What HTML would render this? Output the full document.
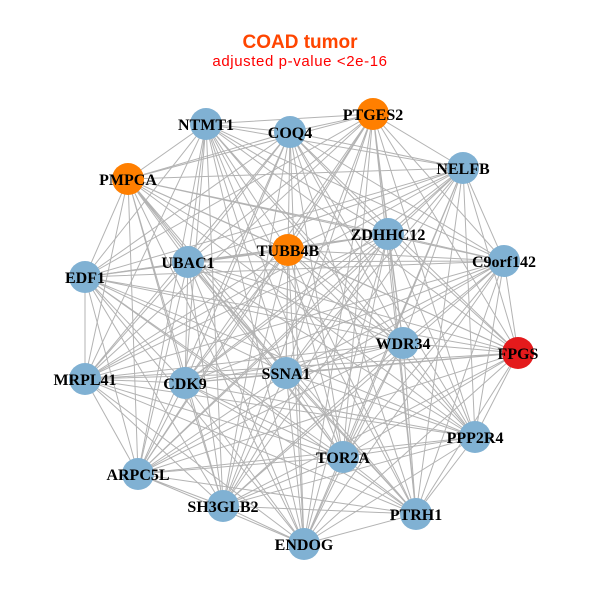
<!DOCTYPE html>
<html><head><meta charset="utf-8"><style>
html,body{margin:0;padding:0;background:#fff;}
svg{display:block;}
.l{font-family:"Liberation Serif",serif;font-weight:bold;font-size:16px;fill:#000;text-anchor:middle;}
</style></head><body>
<svg width="600" height="600" viewBox="0 0 600 600" xmlns="http://www.w3.org/2000/svg">
<rect width="600" height="600" fill="#fff"/>
<text x="300" y="48" text-anchor="middle" font-family="Liberation Sans, sans-serif" font-weight="bold" font-size="19" fill="#FF4500">COAD tumor</text>
<text x="300" y="66" text-anchor="middle" font-family="Liberation Sans, sans-serif" font-size="15" letter-spacing="0.6" fill="#FF0000">adjusted p-value &lt;2e-16</text>
<g fill="none" stroke="#b3b3b3" stroke-width="1">
<path d="M206 124L290 132M206 124L373 114M206 124L463 168M206 124L128 179M206 124L388 234M206 124L288 250M206 124L188 262M206 124L504 261M206 124L85 277M206 124L403 343M206 124L518 353M206 124L85 379M206 124L185 383M206 124L286 373M206 124L475 437M206 124L343 457M206 124L138 474M206 124L223 506M206 124L416 514M206 124L304 544"/>
<path d="M290 132L373 114M290 132L463 168M290 132L128 179M290 132L388 234M290 132L288 250M290 132L188 262M290 132L504 261M290 132L85 277M290 132L403 343M290 132L518 353M290 132L85 379M290 132L185 383M290 132L286 373M290 132L475 437M290 132L343 457M290 132L138 474M290 132L223 506M290 132L416 514M290 132L304 544"/>
<path d="M373 114L463 168M373 114L128 179M373 114L388 234M373 114L288 250M373 114L188 262M373 114L504 261M373 114L85 277M373 114L403 343M373 114L518 353M373 114L85 379M373 114L185 383M373 114L286 373M373 114L475 437M373 114L343 457M373 114L138 474M373 114L223 506M373 114L416 514M373 114L304 544"/>
<path d="M463 168L128 179M463 168L388 234M463 168L288 250M463 168L188 262M463 168L504 261M463 168L85 277M463 168L403 343M463 168L518 353M463 168L85 379M463 168L185 383M463 168L286 373M463 168L475 437M463 168L343 457M463 168L138 474M463 168L223 506M463 168L416 514M463 168L304 544"/>
<path d="M128 179L388 234M128 179L288 250M128 179L188 262M128 179L504 261M128 179L85 277M128 179L403 343M128 179L518 353M128 179L85 379M128 179L185 383M128 179L286 373M128 179L475 437M128 179L343 457M128 179L138 474M128 179L223 506M128 179L416 514M128 179L304 544"/>
<path d="M388 234L288 250M388 234L188 262M388 234L504 261M388 234L85 277M388 234L403 343M388 234L518 353M388 234L85 379M388 234L185 383M388 234L286 373M388 234L475 437M388 234L343 457M388 234L138 474M388 234L223 506M388 234L416 514M388 234L304 544"/>
<path d="M288 250L188 262M288 250L504 261M288 250L85 277M288 250L403 343M288 250L518 353M288 250L85 379M288 250L185 383M288 250L286 373M288 250L475 437M288 250L343 457M288 250L138 474M288 250L223 506M288 250L416 514M288 250L304 544"/>
<path d="M188 262L504 261M188 262L85 277M188 262L403 343M188 262L518 353M188 262L85 379M188 262L185 383M188 262L286 373M188 262L475 437M188 262L343 457M188 262L138 474M188 262L223 506M188 262L416 514M188 262L304 544"/>
<path d="M504 261L85 277M504 261L403 343M504 261L518 353M504 261L85 379M504 261L185 383M504 261L286 373M504 261L475 437M504 261L343 457M504 261L138 474M504 261L223 506M504 261L416 514M504 261L304 544"/>
<path d="M85 277L403 343M85 277L518 353M85 277L85 379M85 277L185 383M85 277L286 373M85 277L475 437M85 277L343 457M85 277L138 474M85 277L223 506M85 277L416 514M85 277L304 544"/>
<path d="M403 343L518 353M403 343L85 379M403 343L185 383M403 343L286 373M403 343L475 437M403 343L343 457M403 343L138 474M403 343L223 506M403 343L416 514M403 343L304 544"/>
<path d="M518 353L85 379M518 353L185 383M518 353L286 373M518 353L475 437M518 353L343 457M518 353L138 474M518 353L223 506M518 353L416 514M518 353L304 544"/>
<path d="M85 379L185 383M85 379L286 373M85 379L475 437M85 379L343 457M85 379L138 474M85 379L223 506M85 379L416 514M85 379L304 544"/>
<path d="M185 383L286 373M185 383L475 437M185 383L343 457M185 383L138 474M185 383L223 506M185 383L416 514M185 383L304 544"/>
<path d="M286 373L475 437M286 373L343 457M286 373L138 474M286 373L223 506M286 373L416 514M286 373L304 544"/>
<path d="M475 437L343 457M475 437L138 474M475 437L223 506M475 437L416 514M475 437L304 544"/>
<path d="M343 457L138 474M343 457L223 506M343 457L416 514M343 457L304 544"/>
<path d="M138 474L223 506M138 474L416 514M138 474L304 544"/>
<path d="M223 506L416 514M223 506L304 544"/>
<path d="M416 514L304 544"/>
</g>
<g>
<circle cx="206" cy="124" r="16" fill="#80B1D3"/>
<circle cx="290" cy="132" r="16" fill="#80B1D3"/>
<circle cx="373" cy="114" r="16" fill="#FF7F00"/>
<circle cx="463" cy="168" r="16" fill="#80B1D3"/>
<circle cx="128" cy="179" r="16" fill="#FF7F00"/>
<circle cx="388" cy="234" r="16" fill="#80B1D3"/>
<circle cx="288" cy="250" r="16" fill="#FF7F00"/>
<circle cx="188" cy="262" r="16" fill="#80B1D3"/>
<circle cx="504" cy="261" r="16" fill="#80B1D3"/>
<circle cx="85" cy="277" r="16" fill="#80B1D3"/>
<circle cx="403" cy="343" r="16" fill="#80B1D3"/>
<circle cx="518" cy="353" r="16" fill="#E41A1C"/>
<circle cx="85" cy="379" r="16" fill="#80B1D3"/>
<circle cx="185" cy="383" r="16" fill="#80B1D3"/>
<circle cx="286" cy="373" r="16" fill="#80B1D3"/>
<circle cx="475" cy="437" r="16" fill="#80B1D3"/>
<circle cx="343" cy="457" r="16" fill="#80B1D3"/>
<circle cx="138" cy="474" r="16" fill="#80B1D3"/>
<circle cx="223" cy="506" r="16" fill="#80B1D3"/>
<circle cx="416" cy="514" r="16" fill="#80B1D3"/>
<circle cx="304" cy="544" r="16" fill="#80B1D3"/>
</g>
<g class="l">
<text class="l" x="206" y="130">NTMT1</text>
<text class="l" x="290" y="138">COQ4</text>
<text class="l" x="373" y="120">PTGES2</text>
<text class="l" x="463" y="174">NELFB</text>
<text class="l" x="128" y="185">PMPCA</text>
<text class="l" x="388" y="240">ZDHHC12</text>
<text class="l" x="288" y="256">TUBB4B</text>
<text class="l" x="188" y="268">UBAC1</text>
<text class="l" x="504" y="267">C9orf142</text>
<text class="l" x="85" y="283">EDF1</text>
<text class="l" x="403" y="349">WDR34</text>
<text class="l" x="518" y="359">FPGS</text>
<text class="l" x="85" y="385">MRPL41</text>
<text class="l" x="185" y="389">CDK9</text>
<text class="l" x="286" y="379">SSNA1</text>
<text class="l" x="475" y="443">PPP2R4</text>
<text class="l" x="343" y="463">TOR2A</text>
<text class="l" x="138" y="480">ARPC5L</text>
<text class="l" x="223" y="512">SH3GLB2</text>
<text class="l" x="416" y="520">PTRH1</text>
<text class="l" x="304" y="550">ENDOG</text>
</g>
</svg>
</body></html>
